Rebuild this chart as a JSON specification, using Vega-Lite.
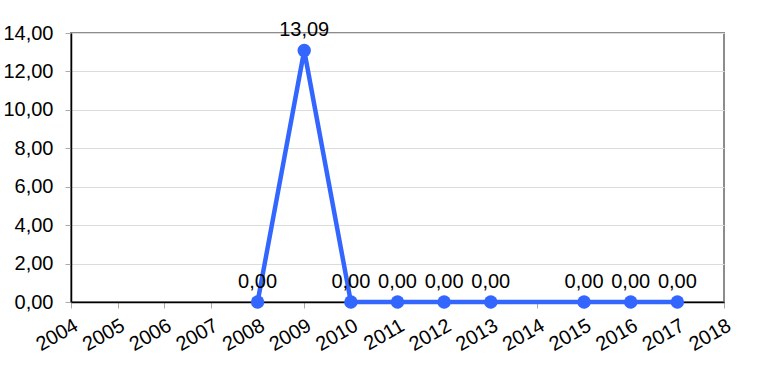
{
  "$schema": "https://vega.github.io/schema/vega-lite/v6.json",
  "width": 653,
  "height": 269,
  "autosize": {"type": "none"},
  "padding": {"left": 71, "top": 33, "right": 39, "bottom": 85},
  "background": "white",
  "config": {
    "locale": {"number": {"decimal": ",", "thousands": ".", "grouping": [3], "currency": ["", " €"]}},
    "view": {"stroke": "#8c8c8c", "strokeWidth": 2},
    "font": "Liberation Sans"
  },
  "data": {
    "values": [
      {"year": "2008", "value": 0},
      {"year": "2009", "value": 13.09},
      {"year": "2010", "value": 0},
      {"year": "2011", "value": 0},
      {"year": "2012", "value": 0},
      {"year": "2013", "value": 0},
      {"year": "2015", "value": 0},
      {"year": "2016", "value": 0},
      {"year": "2017", "value": 0}
    ]
  },
  "encoding": {
    "x": {
      "field": "year",
      "type": "ordinal",
      "sort": null,
      "scale": {"type": "point", "padding": 0, "domain": ["2004","2005","2006","2007","2008","2009","2010","2011","2012","2013","2014","2015","2016","2017","2018"]},
      "axis": {
        "title": null,
        "labelAngle": -30,
        "labelAlign": "right",
        "labelBaseline": "top",
        "labelFontSize": 20,
        "labelColor": "#000000",
        "labelPadding": 7,
        "domainColor": "#000000",
        "domainWidth": 1.5,
        "tickColor": "#aaaaaa",
        "tickSize": 6,
        "grid": false
      }
    },
    "y": {
      "field": "value",
      "type": "quantitative",
      "scale": {"domain": [0, 14], "nice": false},
      "axis": {
        "title": null,
        "values": [0, 2, 4, 6, 8, 10, 12, 14],
        "format": ".2f",
        "labelFontSize": 20,
        "labelColor": "#000000",
        "labelPadding": 12,
        "domainColor": "#000000",
        "domainWidth": 1.5,
        "tickColor": "#aaaaaa",
        "tickSize": 6,
        "gridColor": "#dcdcdc",
        "gridWidth": 1
      }
    }
  },
  "layer": [
    {"mark": {"type": "line", "color": "#3366ff", "strokeWidth": 4.5}},
    {"mark": {"type": "point", "filled": true, "size": 180, "color": "#3366ff", "opacity": 1}},
    {
      "mark": {"type": "text", "dy": -10, "baseline": "bottom", "fontSize": 20, "color": "#000000"},
      "encoding": {"text": {"field": "value", "type": "quantitative", "format": ".2f"}}
    }
  ]
}
